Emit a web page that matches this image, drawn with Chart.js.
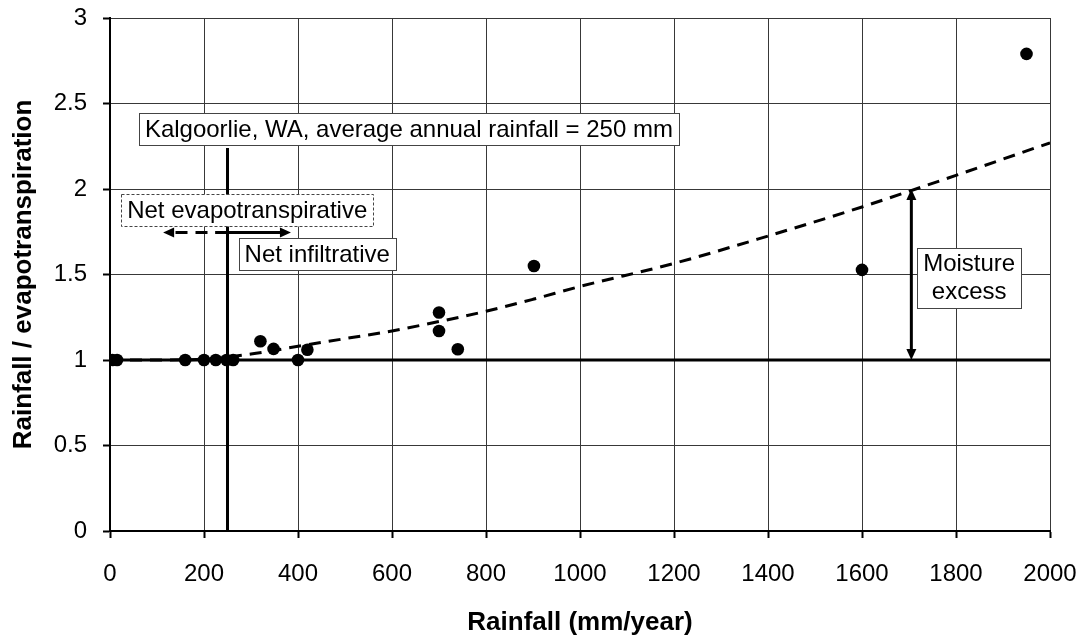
<!DOCTYPE html>
<html>
<head>
<meta charset="utf-8">
<title>Rainfall / evapotranspiration</title>
<script src="https://cdn.jsdelivr.net/npm/chart.js@4.4.0/dist/chart.umd.min.js"></script>
<style>
  html, body { margin: 0; padding: 0; background: #fff; }
  #wrap { width: 1085px; height: 637px; }
</style>
</head>
<body>
<div id="wrap"><canvas id="rainChart" width="1085" height="637"></canvas></div>
<script>
const FONT = '"Liberation Sans", Arial, Helvetica, sans-serif';

// measured sites: rainfall (mm/year) vs rainfall / evapotranspiration
const siteRainfall = [5, 15, 160, 200, 225, 248, 262, 320, 348, 400, 420, 700, 700, 740, 902, 1600, 1950];
const siteRatio = [1, 1, 1, 1, 1, 1, 1, 1.11, 1.065, 1, 1.06, 1.278, 1.17, 1.063, 1.55, 1.527, 2.79];

// dashed trend curve
const trendRainfall = [0, 100, 200, 300, 400, 500, 600, 700, 800, 900, 1000, 1200, 1400, 1600, 1800, 2000];
const trendRatio = [1, 1, 1.005, 1.035, 1.08, 1.125, 1.17, 1.225, 1.285, 1.355, 1.43, 1.565, 1.725, 1.895, 2.08, 2.27];

// reference lines
const balanceRainfall = [0, 2000];
const balanceRatio = [1, 1];
const kalgoorlieRainfall = [250, 250];
const kalgoorlieRatio = [0, 2.24];

const xTicks = [0, 200, 400, 600, 800, 1000, 1200, 1400, 1600, 1800, 2000];
const xTickLabels = ['0', '200', '400', '600', '800', '1000', '1200', '1400', '1600', '1800', '2000'];
const yTicks = [0, 0.5, 1, 1.5, 2, 2.5, 3];
const yTickLabels = ['0', '0.5', '1', '1.5', '2', '2.5', '3'];

// text boxes (centre in data units)
const notes = [
    { lines: ['Kalgoorlie, WA, average annual rainfall = 250 mm'], x: 636, y: 2.351, dashed: false },
    { lines: ['Net evapotranspirative'], x: 292, y: 1.877, dashed: true },
    { lines: ['Net infiltrative'], x: 441, y: 1.62, dashed: false },
    { lines: ['Moisture', 'excess'], x: 1828, y: 1.482, dashed: false }
];

// arrows (data units)
const arrows = [
    { from: [250, 1.745], to: [113, 1.745], dashed: true, heads: 1 },
    { from: [224, 1.745], to: [385, 1.745], dashed: false, heads: 1 },
    { from: [1705, 1], to: [1705, 2], dashed: false, heads: 2 }
];

function toPoints(xs, ys) {
    return xs.map((x, i) => ({ x: x, y: ys[i] }));
}

function arrowHead(ctx, x, y, ang) {
    const hl = 11, hw = 5;
    ctx.beginPath();
    ctx.moveTo(x, y);
    ctx.lineTo(x - hl * Math.cos(ang) + hw * Math.sin(ang), y - hl * Math.sin(ang) - hw * Math.cos(ang));
    ctx.lineTo(x - hl * Math.cos(ang) - hw * Math.sin(ang), y - hl * Math.sin(ang) + hw * Math.cos(ang));
    ctx.closePath();
    ctx.fill();
}

function drawArrow(ctx, x1, y1, x2, y2, dashed, heads) {
    const ang = Math.atan2(y2 - y1, x2 - x1);
    const hl = 9;
    ctx.lineWidth = 3;
    ctx.strokeStyle = '#000';
    ctx.fillStyle = '#000';
    ctx.setLineDash(dashed ? [12, 8] : []);
    const sx = heads === 2 ? x1 + hl * Math.cos(ang) : x1;
    const sy = heads === 2 ? y1 + hl * Math.sin(ang) : y1;
    ctx.beginPath();
    ctx.moveTo(sx, sy);
    ctx.lineTo(x2 - hl * Math.cos(ang), y2 - hl * Math.sin(ang));
    ctx.stroke();
    ctx.setLineDash([]);
    arrowHead(ctx, x2, y2, ang);
    if (heads === 2) arrowHead(ctx, x1, y1, ang + Math.PI);
}

const notesPlugin = {
    id: 'notes',
    afterDatasetsDraw(chart) {
        const ctx = chart.ctx;
        const xs = chart.scales.x;
        const ys = chart.scales.y;
        ctx.save();
        arrows.forEach(a => {
            drawArrow(ctx,
                xs.getPixelForValue(a.from[0]), ys.getPixelForValue(a.from[1]),
                xs.getPixelForValue(a.to[0]), ys.getPixelForValue(a.to[1]),
                a.dashed, a.heads);
        });
        ctx.font = '24px ' + FONT;
        notes.forEach(n => {
            const w = Math.round(Math.max(...n.lines.map(l => ctx.measureText(l).width)) + 12);
            const h = n.lines.length * 28 + 4;
            const cx = xs.getPixelForValue(n.x);
            const cy = ys.getPixelForValue(n.y);
            const left = Math.round(cx - w / 2) + 0.5;
            const top = Math.round(cy - h / 2) + 0.5;
            ctx.fillStyle = '#fff';
            ctx.fillRect(left, top, w, h);
            ctx.setLineDash(n.dashed ? [3, 2] : []);
            ctx.lineWidth = 1;
            ctx.strokeStyle = '#444';
            ctx.strokeRect(left, top, w, h);
            ctx.setLineDash([]);
            ctx.fillStyle = '#000';
            ctx.textAlign = 'center';
            ctx.textBaseline = 'middle';
            n.lines.forEach((l, i) => {
                ctx.fillText(l, cx, cy - (n.lines.length - 1) * 14 + i * 28 + 1);
            });
        });
        ctx.restore();
    }
};

document.addEventListener('DOMContentLoaded', () => {
    const ctx = document.getElementById('rainChart').getContext('2d');

    new Chart(ctx, {
        type: 'scatter',
        data: {
            datasets: [
                {
                    label: 'Sites',
                    data: toPoints(siteRainfall, siteRatio),
                    pointRadius: 6.3,
                    pointBackgroundColor: '#000',
                    pointBorderWidth: 0,
                    showLine: false,
                    order: 0
                },
                {
                    label: 'Trend',
                    data: toPoints(trendRainfall, trendRatio),
                    showLine: true,
                    borderColor: '#000',
                    borderWidth: 3,
                    borderDash: [12, 8],
                    cubicInterpolationMode: 'monotone',
                    pointRadius: 0,
                    order: 1
                },
                {
                    label: 'Balance',
                    data: toPoints(balanceRainfall, balanceRatio),
                    showLine: true,
                    borderColor: '#000',
                    borderWidth: 3,
                    pointRadius: 0,
                    order: 2
                },
                {
                    label: 'Kalgoorlie',
                    data: toPoints(kalgoorlieRainfall, kalgoorlieRatio),
                    showLine: true,
                    borderColor: '#000',
                    borderWidth: 3,
                    pointRadius: 0,
                    order: 3
                }
            ]
        },
        options: {
            responsive: false,
            animation: false,
            devicePixelRatio: 1,
            layout: { padding: { left: 0, right: 35, top: 18, bottom: 0 } },
            plugins: {
                legend: { display: false },
                tooltip: { enabled: false }
            },
            scales: {
                x: {
                    type: 'linear',
                    min: 0,
                    max: 2000,
                    afterBuildTicks: s => { s.ticks = xTicks.map(v => ({ value: v })); },
                    afterFit: s => { s.height = 106; s.paddingLeft = 0; s.paddingRight = 0; },
                    ticks: {
                        callback: (v, i) => xTickLabels[i],
                        font: { family: FONT, size: 24 },
                        color: '#000',
                        padding: 22,
                        maxRotation: 0,
                        autoSkip: false
                    },
                    grid: { color: '#383838', lineWidth: 1, tickLength: 7, tickColor: '#000', tickWidth: 2 },
                    border: { color: '#000', width: 2 },
                    title: {
                        display: true,
                        text: 'Rainfall (mm/year)',
                        color: '#000',
                        font: { family: FONT, size: 26, weight: 'bold', lineHeight: 1.1 },
                        padding: { top: 0, bottom: 0 }
                    }
                },
                y: {
                    type: 'linear',
                    min: 0,
                    max: 3,
                    afterBuildTicks: s => { s.ticks = yTicks.map(v => ({ value: v })); },
                    afterFit: s => { s.width = 110; s.paddingTop = 0; s.paddingBottom = 0; },
                    ticks: {
                        callback: (v, i) => yTickLabels[i],
                        font: { family: FONT, size: 24 },
                        color: '#000',
                        padding: 16,
                        autoSkip: false
                    },
                    grid: { color: '#383838', lineWidth: 1, tickLength: 7, tickColor: '#000', tickWidth: 2 },
                    border: { color: '#000', width: 2 },
                    title: {
                        display: true,
                        text: 'Rainfall / evapotranspiration',
                        color: '#000',
                        font: { family: FONT, size: 26, weight: 'bold', lineHeight: 1.2 },
                        padding: { top: 8, bottom: 0 }
                    }
                }
            }
        },
        plugins: [notesPlugin]
    });
});
</script>
</body>
</html>
